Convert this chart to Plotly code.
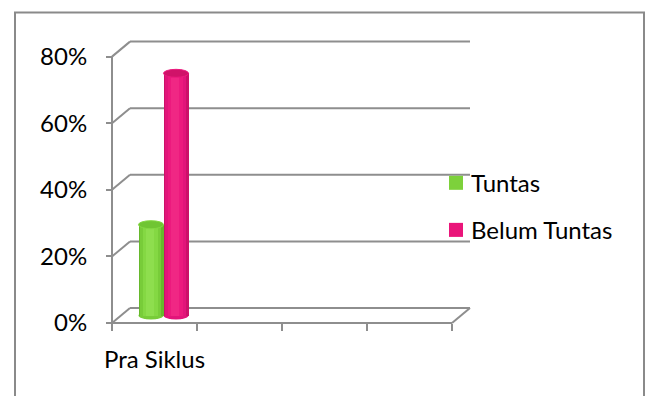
import plotly.graph_objects as go

# ---------------- data ----------------
categories = ["Pra Siklus"]
n_slots = 4                      # category slots shown on the x axis
series_names = ["Tuntas", "Belum Tuntas"]
tuntas = [27.27]
belum_tuntas = [72.73]
series_values = [tuntas, belum_tuntas]
y_ticks = [0, 20, 40, 60, 80]
y_tick_labels = ["0%", "20%", "40%", "60%", "80%"]

# ---------------- styling ----------------
series_colors = ["#7dd13b", "#ea157a"]
shade = {
    "Tuntas": ["#66b82c", "#78cc39", "#84d843", "#8ede4e"],
    "Belum Tuntas": ["#cc1169", "#e2157a", "#ec1a7e", "#f02784"],
}
top_color = {"Tuntas": "#70c533", "Belum Tuntas": "#d01369"}
grid_color = "#8e8e8e"
FONT = "Lato"
FS = 24

W, H = 649, 396
X0PX, XSTEP = 112, 85          # pixel of x=0, pixels per category slot
Y0PX, YSCALE = 323, 3.325      # pixel of y=0, pixels per percent
XR = (-0.2, 4.4)
YR = (-3.0, 88.0)
ml = X0PX + XR[0] * XSTEP
mr = W - (X0PX + XR[1] * XSTEP)
mb = H - (Y0PX - YR[0] * YSCALE)
mt = Y0PX - YR[1] * YSCALE

DX = 18 / XSTEP                # depth offset (x) of the back wall
DY = 15 / YSCALE               # depth offset (y) of the back wall
BW = 25 / XSTEP                # cylinder width
EH = 4 / YSCALE                # half height of cylinder ellipse


def pxx(px):
    return (px - ml) / (W - ml - mr)


def pxy(py):
    return ((H - mb) - py) / (H - mt - mb)


fig = go.Figure()
shapes = []

# 3D frame: back wall gridlines and depth diagonals
line = dict(color=grid_color, width=2)
for v in y_ticks:
    shapes.append(dict(type="line", xref="x", yref="y", x0=DX, y0=v + DY,
                       x1=n_slots + DX, y1=v + DY, line=line, layer="below"))
    shapes.append(dict(type="line", xref="x", yref="y", x0=0, y0=v,
                       x1=DX, y1=v + DY, line=line, layer="below"))
shapes.append(dict(type="line", xref="x", yref="y", x0=0, y0=0, x1=0,
                   y1=y_ticks[-1], line=line, layer="below"))
shapes.append(dict(type="line", xref="x", yref="y", x0=0, y0=0, x1=n_slots,
                   y1=0, line=line, layer="below"))
shapes.append(dict(type="line", xref="x", yref="y", x0=n_slots, y0=0,
                   x1=n_slots + DX, y1=DY, line=line, layer="below"))

# cylinders
nser = len(series_names)
for ci, cat in enumerate(categories):
    center = ci + 0.5 + DX / 2
    for si, name in enumerate(series_names):
        val = series_values[si][ci]
        xc = center + (si - (nser - 1) / 2) * BW
        base = DY / 2
        # bottom rounding
        shapes.append(dict(type="circle", xref="x", yref="y",
                           x0=xc - BW / 2, x1=xc + BW / 2,
                           y0=base - EH, y1=base + EH,
                           fillcolor=shade[name][1], line=dict(width=0),
                           layer="below"))
        fracs = [1.0, 0.84, 0.6, 0.32]
        offs = [0, -0.01, -0.03, -0.05]
        for k, (f, o) in enumerate(zip(fracs, offs)):
            fig.add_trace(go.Bar(
                x=[xc + o * BW], y=[val], base=[base], width=[BW * f],
                marker=dict(color=shade[name][k], line=dict(width=0)),
                showlegend=False, hoverinfo="skip", name=name))
        top = base + val
        shapes.append(dict(type="circle", xref="x", yref="y",
                           x0=xc - BW / 2, x1=xc + BW / 2,
                           y0=top - EH, y1=top + EH,
                           fillcolor=top_color[name],
                           line=dict(width=1, color=shade[name][2]),
                           layer="above"))

# legend (drawn manually to match placement)
annotations = []
leg_y = [183, 230]
for si, name in enumerate(series_names):
    cy = leg_y[si]
    shapes.append(dict(type="rect", xref="paper", yref="paper",
                       x0=pxx(449), x1=pxx(463), y0=pxy(cy - 7), y1=pxy(cy + 7),
                       fillcolor=series_colors[si], line=dict(width=0)))
    annotations.append(dict(xref="paper", yref="paper", x=pxx(469), y=pxy(cy),
                            xanchor="left", yanchor="middle", text=name,
                            showarrow=False,
                            font=dict(family=FONT, size=FS, color="#000")))

# outer chart border
shapes.append(dict(type="rect", xref="paper", yref="paper",
                   x0=pxx(15), x1=pxx(644), y0=pxy(H + 10), y1=pxy(13),
                   line=dict(color="#8a8a8a", width=2), fillcolor="rgba(0,0,0,0)"))

fig.update_layout(
    width=W, height=H,
    margin=dict(l=ml, r=mr, t=mt, b=mb, pad=0),
    paper_bgcolor="white", plot_bgcolor="white",
    barmode="overlay", bargap=0,
    showlegend=False,
    shapes=shapes, annotations=annotations,
    font=dict(family=FONT, size=FS, color="#000"),
    xaxis=dict(range=list(XR), anchor="free",
               position=(0 - YR[0]) / (YR[1] - YR[0]),
               tickvals=[i + 0.5 for i in range(len(categories))],
               ticktext=categories, ticks="", ticklabelstandoff=20,
               minor=dict(tickvals=list(range(n_slots + 1)), ticks="outside",
                          ticklen=7, tickwidth=2, tickcolor=grid_color),
               showgrid=False, zeroline=False, showline=False,
               tickfont=dict(family=FONT, size=FS, color="#000")),
    yaxis=dict(range=list(YR), anchor="free",
               position=(0 - XR[0]) / (XR[1] - XR[0]),
               tickvals=y_ticks, ticktext=y_tick_labels,
               ticks="outside", ticklen=6, tickwidth=2, tickcolor=grid_color,
               ticklabelstandoff=14,
               showgrid=False, zeroline=False, showline=False,
               tickfont=dict(family=FONT, size=FS, color="#000")),
)

fig.write_html("out.html")
